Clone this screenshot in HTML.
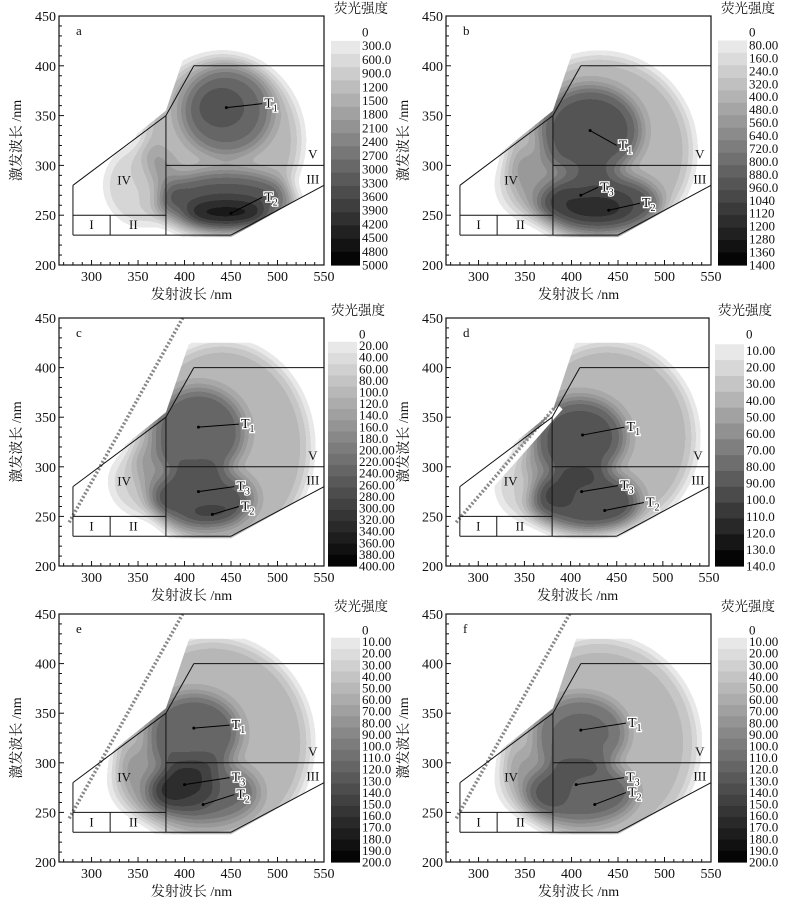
<!DOCTYPE html><html><head><meta charset="utf-8"><style>
html,body{margin:0;padding:0;background:#fff}
svg text{font-family:"Liberation Serif","Noto Serif CJK SC",serif;fill:#111}
</style></head><body>
<svg id="s" width="794" height="914" viewBox="0 0 794 914" xmlns="http://www.w3.org/2000/svg"></svg>
<script>
const P=[
{id:'a',L:59,R:324,T:16,B:265,cb:331,
 labels:['0','300.0','600.0','900.0','1200','1500','1800','2100','2400','2700','3000','3300','3600','3900','4200','4500','4800','5000'],
 blobs:[[440,325,85,85,0.3],[445,355,50,45,0.45],[440,358,25,20,0.3],[445,262,75,32,0.55],[445,252,45,14,0.7],[355,280,40,40,0.2]],
 ann:[['1',490,362,445,358],['2',490,268,450,252]],streak:0},
{id:'b',L:446,R:711,T:16,B:265,cb:718,
 labels:['0','80.00','160.0','240.0','320.0','400.0','480.0','560.0','640.0','720.0','800.0','880.0','960.0','1040','1120','1200','1280','1360','1400'],
 blobs:[[430,315,100,95,0.3],[420,335,55,45,0.55],[430,262,65,30,0.6],[425,258,35,12,0.5],[360,280,40,35,0.2]],
 ann:[['1',455,320,420,335],['3',435,278,410,270],['2',480,262,440,255]],streak:0},
{id:'c',L:59,R:324,T:318,B:566,cb:328,
 labels:['0','20.00','40.00','60.00','80.00','100.0','120.0','140.0','160.0','180.0','200.00','220.00','240.00','260.00','280.00','300.00','320.00','340.00','360.00','380.00','400.00'],
 blobs:[[440,320,95,105,0.3],[415,335,50,45,0.5],[420,268,55,30,0.55],[430,252,30,10,0.3],[360,285,40,35,0.2]],
 ann:[['1',465,343,415,340],['3',460,280,415,275],['2',465,260,430,252]],streak:1},
{id:'d',L:446,R:709,T:318,B:566,cb:715,
 labels:['0','10.00','20.00','30.00','40.00','50.00','60.00','70.00','80.00','90.00','100.0','110.0','120.0','130.0','140.0'],
 blobs:[[440,330,95,95,0.3],[410,330,50,40,0.55],[415,265,60,32,0.6],[360,280,40,35,0.2]],
 ann:[['1',465,340,413,332],['3',458,281,412,275],['2',486,264,437,256]],streak:2},
{id:'e',L:59,R:324,T:614,B:862,cb:331,
 labels:['0','10.00','20.00','30.00','40.00','50.00','60.00','70.00','80.00','90.00','100.0','110.0','120.0','130.0','140.0','150.0','160.0','170.0','180.0','190.0','200.0'],
 blobs:[[430,320,105,105,0.3],[410,330,50,40,0.5],[400,275,35,22,0.5],[420,270,60,32,0.45],[360,280,40,35,0.2]],
 ann:[['1',455,338,410,335],['3',455,285,400,278],['2',460,268,420,258]],streak:1},
{id:'f',L:446,R:711,T:614,B:862,cb:718,
 labels:['0','10.00','20.00','30.00','40.00','50.00','60.00','70.00','80.00','90.00','100.0','110.0','120.0','130.0','140.0','150.0','160.0','170.0','180.0','190.0','200.0'],
 blobs:[[430,320,105,105,0.28],[410,330,50,38,0.45],[410,270,60,32,0.5],[360,280,40,35,0.18]],
 ann:[['1',465,340,410,333],['3',463,285,405,278],['2',465,270,425,258]],streak:1}
];
let h='<defs><filter id="post" color-interpolation-filters="sRGB" filterUnits="userSpaceOnUse" x="0" y="0" width="794" height="914"><feGaussianBlur stdDeviation="8"/><feComponentTransfer>';
const tv="0.02 0.1 0.18 0.26 0.33 0.4 0.47 0.54 0.6 0.66 0.72 0.78 0.84 0.91 1";
h+=`<feFuncR type="discrete" tableValues="${tv}"/><feFuncG type="discrete" tableValues="${tv}"/><feFuncB type="discrete" tableValues="${tv}"/></feComponentTransfer></filter></defs>`;
P.forEach((p,i)=>{
 const sx=(p.R-p.L)/285, sy=(p.B-p.T)/250;
 const X=x=>p.L+(x-265)*sx, Y=y=>p.B-(y-200)*sy;
 const clip='clip'+i;
 const poly=[[275,245],[280,280],[380,355],[405,425],[470,425],[550,405],[550,280],[450,228],[280,228]];
 h+=`<clipPath id="${clip}"><polygon points="${poly.map(q=>X(q[0])+','+Y(q[1])).join(' ')}"/></clipPath>`;
 h+=`<clipPath id="pc${i}"><rect x="${p.L}" y="${p.T}" width="${p.R-p.L}" height="${p.B-p.T}"/></clipPath>`;
 h+=`<g clip-path="url(#${clip})"><g filter="url(#post)"><rect x="${p.L-40}" y="${p.T-40}" width="${p.R-p.L+80}" height="${p.B-p.T+80}" fill="#fff"/>`;
 p.blobs.forEach(b=>{h+=`<ellipse cx="${X(b[0])}" cy="${Y(b[1])}" rx="${b[2]*sx}" ry="${b[3]*sy}" fill="#000" fill-opacity="${b[4]}"/>`;});
 h+='</g></g>';
 if(p.streak){
  const ex=p.streak==2?385:400, ey=p.streak==2?360:450;
  h+=`<g clip-path="url(#pc${i})"><line x1="${X(280)}" y1="${Y(246)}" x2="${X(ex+4)}" y2="${Y(ey)}" stroke="#fff" stroke-width="6"/>`;
  h+=`<line x1="${X(276)}" y1="${Y(244)}" x2="${X(ex-2)}" y2="${Y(ey)}" stroke="#888" stroke-width="3.5" stroke-dasharray="2 2"/></g>`;
 }
 const ln=(a,b,c,d)=>h+=`<line x1="${X(a)}" y1="${Y(b)}" x2="${X(c)}" y2="${Y(d)}" stroke="#111" stroke-width="1"/>`;
 ln(280,230,280,280);ln(280,280,380,350);ln(380,350,410,400);ln(410,400,550,400);
 ln(380,230,380,350);ln(280,250,380,250);ln(320,230,320,250);ln(280,230,450,230);ln(450,230,550,280);ln(380,300,550,300);
 const lab=(t,x,y)=>h+=`<text x="${X(x)}" y="${Y(y)}" font-size="13" text-anchor="middle">${t}</text>`;
 lab('I',300,236);lab('II',345,236);lab('IV',335,281);lab('V',538,307);lab('III',538,282);
 p.ann.forEach(a=>{
  h+=`<line x1="${X(a[1])-6}" y1="${Y(a[2])}" x2="${X(a[3])}" y2="${Y(a[4])}" stroke="#000" stroke-width="1"/>`;
  h+=`<circle cx="${X(a[3])}" cy="${Y(a[4])}" r="1.5" fill="#000"/>`;
  h+=`<text x="${X(a[1])-4}" y="${Y(a[2])+4}" font-size="14" stroke="#fff" stroke-width="2.5" paint-order="stroke">T<tspan font-size="10" dy="4">${a[0]}</tspan></text>`;
 });
 h+=`<rect x="${p.L}" y="${p.T}" width="${p.R-p.L}" height="${p.B-p.T}" fill="none" stroke="#111" stroke-width="1.2"/>`;
 for(let x=270;x<=550;x+=10){const M=x%50==0;h+=`<line x1="${X(x)}" y1="${p.B}" x2="${X(x)}" y2="${p.B-(M?5:3)}" stroke="#111"/>`;
  if(M&&x>=300)h+=`<text x="${X(x)}" y="${p.B+16}" font-size="14" text-anchor="middle">${x}</text>`;}
 for(let y=200;y<=450;y+=10){const M=y%50==0;h+=`<line x1="${p.L}" y1="${Y(y)}" x2="${p.L+(M?5:3)}" y2="${Y(y)}" stroke="#111"/>`;
  if(M)h+=`<text x="${p.L-3}" y="${Y(y)+5}" font-size="14" text-anchor="end">${y}</text>`;}
 h+=`<text x="${p.L+17}" y="${p.T+19}" font-size="13">${p.id}</text>`;
 h+=`<text x="${(p.L+p.R)/2}" y="${p.B+34}" font-size="14" text-anchor="middle">发射波长 /nm</text>`;
 h+=`<text transform="translate(${p.L-38},${(p.T+p.B)/2}) rotate(-90)" font-size="14" text-anchor="middle">激发波长 /nm</text>`;
 const n=p.labels.length, top0=p.T+16, step=(p.B-top0)/(n-1);
 h+=`<text x="${p.cb+3}" y="${p.T-3}" font-size="13.5">荧光强度</text>`;
 const barTop=top0+step*0.5+2, segs=n-1, sh=(p.B-barTop)/segs;
 for(let k=0;k<segs;k++){const g=Math.round(232-k*(232-5)/(segs-1));
  h+=`<rect x="${p.cb}" y="${barTop+k*sh}" width="29" height="${sh+0.6}" fill="rgb(${g},${g},${g})"/>`;}
 p.labels.forEach((t,k)=>{h+=`<text x="${p.cb+31}" y="${top0+k*step+4.5}" font-size="13">${t}</text>`;});
});
document.getElementById('s').innerHTML=h;
</script>
</body></html>
